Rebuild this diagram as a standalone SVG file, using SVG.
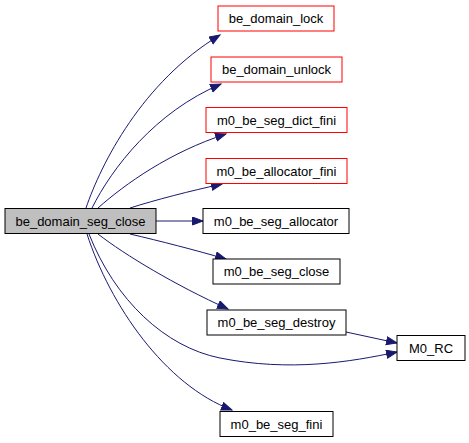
<svg xmlns="http://www.w3.org/2000/svg" width="469" height="443" viewBox="0 0 469 443">
<defs>
<marker id="arr" markerUnits="userSpaceOnUse" markerWidth="13" markerHeight="10" refX="11" refY="4.5" orient="auto">
<polygon points="0.5,0.5 11,4.5 0.5,8.5" fill="#191970" stroke="#191970"/>
</marker>
<style>
.n rect{fill:#fff;stroke:#000;stroke-width:1}
.n.red rect{stroke:#ff0000}
.n.main rect{fill:#bfbfbf}
.n text{font-family:"Liberation Sans",Arial,sans-serif;font-size:13px;text-anchor:middle;fill:#000}
#edges path{fill:none;stroke:#191970;stroke-width:1;marker-end:url(#arr)}
</style>
</defs>
<rect width="469" height="443" fill="#fff"/>
<g id="edges">
<path d="M86,208 C101,164 142,82 220,35"/>
<path d="M92,208 C112,168 155,112 221,84"/>
<path d="M98,208 C125,184 170,152 226,134"/>
<path d="M130,208 C155,200 190,191 222,184"/>
<path d="M156,221 L203,221"/>
<path d="M130,234 C160,241 195,250 226,259"/>
<path d="M98,234 C125,255 175,285 228,309"/>
<path d="M89,234 C115,300 165,347 220,358 C290,372 350,362 397,352"/>
<path d="M87,234 C110,305 165,385 232,410"/>
<path d="M346,332 L397,343"/>
</g>
<g id="be_domain_seg_close" class="n main"><rect x="5" y="208.5" width="151" height="25"/><text x="80.5" y="225.5">be_domain_seg_close</text></g>
<g id="be_domain_lock" class="n red"><rect x="218" y="6" width="116" height="25"/><text x="276" y="23">be_domain_lock</text></g>
<g id="be_domain_unlock" class="n red"><rect x="211" y="57" width="131" height="25"/><text x="276.5" y="74">be_domain_unlock</text></g>
<g id="m0_be_seg_dict_fini" class="n red"><rect x="206" y="107.5" width="141" height="25"/><text x="276.5" y="124.5">m0_be_seg_dict_fini</text></g>
<g id="m0_be_allocator_fini" class="n red"><rect x="206" y="158.5" width="141" height="25"/><text x="276.5" y="175.5">m0_be_allocator_fini</text></g>
<g id="m0_be_seg_allocator" class="n"><rect x="203" y="208.5" width="146" height="25"/><text x="276" y="225.5">m0_be_seg_allocator</text></g>
<g id="m0_be_seg_close" class="n"><rect x="213" y="259" width="127" height="25"/><text x="276.5" y="276">m0_be_seg_close</text></g>
<g id="m0_be_seg_destroy" class="n"><rect x="207" y="310" width="139" height="25"/><text x="276.5" y="327">m0_be_seg_destroy</text></g>
<g id="M0_RC" class="n"><rect x="397" y="335.5" width="68" height="25"/><text x="431" y="352.5">M0_RC</text></g>
<g id="m0_be_seg_fini" class="n"><rect x="220" y="411.5" width="113" height="25"/><text x="276.5" y="428.5">m0_be_seg_fini</text></g>
</svg>
